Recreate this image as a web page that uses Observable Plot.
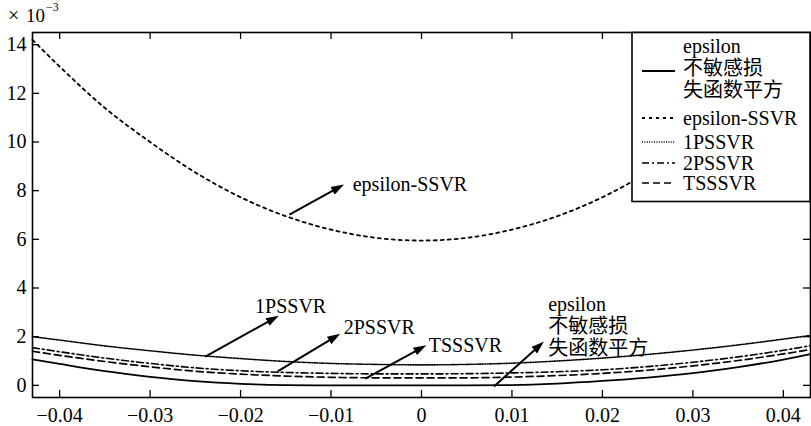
<!DOCTYPE html>
<html>
<head>
<meta charset="utf-8">
<script src="https://cdn.jsdelivr.net/npm/d3@7"></script>
<script src="https://cdn.jsdelivr.net/npm/@observablehq/plot@0.6"></script>
<style>
  html, body { margin: 0; padding: 0; background: #fff; }
  #chart { width: 811px; height: 426px; }
</style>
</head>
<body>
<div id="chart"></div>
<script>
// ---- data (y values in units of 1e-3) ----
const xValues = [-0.043, -0.04, -0.035, -0.03, -0.025, -0.02, -0.015, -0.01, -0.005, 0,
                 0.005, 0.01, 0.015, 0.02, 0.025, 0.03, 0.035, 0.04, 0.043];
const epsInsensitiveSq = [1.07, 0.88, 0.58, 0.35, 0.17, 0.06, 0.01, 0, 0, 0,
                          0, 0.01, 0.07, 0.18, 0.32, 0.5, 0.75, 1.06, 1.28];
const epsilonSSVR = [14.2, 13.1, 11.4, 10.0, 8.75, 7.73, 6.95, 6.4, 6.06, 5.95,
                     6.06, 6.4, 6.95, 7.73, 8.75, 10.0, 11.4, 13.1, 14.2];
const onePSSVR = [2.0, 1.86, 1.62, 1.42, 1.24, 1.1, 0.98, 0.9, 0.86, 0.84,
                  0.86, 0.91, 1.0, 1.12, 1.27, 1.45, 1.66, 1.9, 2.05];
const twoPSSVR = [1.55, 1.38, 1.12, 0.9, 0.72, 0.6, 0.53, 0.49, 0.47, 0.47,
                  0.48, 0.51, 0.56, 0.64, 0.77, 0.95, 1.17, 1.44, 1.63];
const tsSSVR = [1.40, 1.23, 0.98, 0.76, 0.58, 0.46, 0.38, 0.33, 0.31, 0.31,
                0.31, 0.34, 0.4, 0.49, 0.62, 0.8, 1.02, 1.29, 1.47];

const seriesNames = ["epsilon 不敏感损失函数平方", "epsilon-SSVR", "1PSSVR", "2PSSVR", "TSSSVR"];
const seriesValues = [epsInsensitiveSq, epsilonSSVR, onePSSVR, twoPSSVR, tsSSVR];

const xTicks = [-0.04, -0.03, -0.02, -0.01, 0, 0.01, 0.02, 0.03, 0.04];
const yTicks = [0, 2, 4, 6, 8, 10, 12, 14];

// annotations (data coordinates)
const annotationLabels = ["epsilon-SSVR", "1PSSVR", "2PSSVR", "TSSSVR", "epsilon\n不敏感损\n失函数平方"];
const labelX = [-0.0076, -0.0184, -0.0086, 0.0008, 0.0140];
const labelY = [8.29, 3.28, 2.38, 1.64, 2.42];
const arrowX1 = [-0.0146, -0.0239, -0.0159, -0.0062, 0.0080];
const arrowY1 = [7.02, 1.18, 0.57, 0.28, -0.05];
const arrowX2 = [-0.0092, -0.0164, -0.0096, -0.0001, 0.0130];
const arrowY2 = [8.12, 2.73, 1.98, 1.52, 1.62];

// ---- styles ----
const dashes = {
  "epsilon 不敏感损失函数平方": null,
  "epsilon-SSVR": "3,4",
  "1PSSVR": "1,1.4",
  "2PSSVR": "7,3,2,3",
  "TSSSVR": "7,4"
};
const widths = {
  "epsilon 不敏感损失函数平方": 1.8,
  "epsilon-SSVR": 1.8,
  "1PSSVR": 1.6,
  "2PSSVR": 1.6,
  "TSSSVR": 1.7
};

const rows = seriesNames.flatMap((name, si) =>
  xValues.map((x, i) => ({ name, x, y: seriesValues[si][i] })));

const annotations = annotationLabels.map((label, i) => ({
  label, lx: labelX[i], ly: labelY[i],
  x1: arrowX1[i], y1: arrowY1[i], x2: arrowX2[i], y2: arrowY2[i]
}));

const W = 811, H = 426;
const mL = 32, mR = 1, mT = 32, mB = 29;
const innerW = W - mL - mR, innerH = H - mT - mB;
const FONT = "'Liberation Serif', 'Times New Roman', 'Noto Sans CJK SC', serif";

const fmtX = d => d === 0 ? "0" : d3.format(".2f")(d);

const lineMarks = seriesNames.map(name =>
  Plot.line(rows.filter(r => r.name === name), {
    x: "x", y: "y", curve: "monotone-x",
    stroke: "black", strokeWidth: widths[name],
    strokeDasharray: dashes[name] || undefined
  }));

const svg = Plot.plot({
  width: W, height: H,
  marginLeft: mL, marginRight: mR, marginTop: mT, marginBottom: mB,
  x: { domain: [-0.043, 0.043], label: null },
  y: { domain: [-0.5, 14.5], label: null },
  style: { fontFamily: FONT, fontSize: "20px", color: "black", background: "white", overflow: "visible" },
  marks: [
    ...lineMarks,
    Plot.axisX(xTicks, { tickSize: 0, tickPadding: 10, tickFormat: fmtX, label: null }),
    Plot.axisY(yTicks, { tickSize: 0, tickPadding: 6, label: null }),
    Plot.tickX(xTicks, { x: d => d, insetTop: innerH - 7, stroke: "black", strokeWidth: 1.3 }),
    Plot.tickX(xTicks, { x: d => d, insetBottom: innerH - 7, stroke: "black", strokeWidth: 1.3 }),
    Plot.tickY(yTicks, { y: d => d, insetRight: innerW - 7, stroke: "black", strokeWidth: 1.3 }),
    Plot.tickY(yTicks, { y: d => d, insetLeft: innerW - 7, stroke: "black", strokeWidth: 1.3 }),
    Plot.frame({ stroke: "black", strokeWidth: 1.6 }),
    Plot.link(annotations, { x1: "x1", y1: "y1", x2: "x2", y2: "y2", stroke: "black", strokeWidth: 2, markerEnd: "arrow" }),
    Plot.text(annotations, { x: "lx", y: "ly", text: "label", textAnchor: "start", lineAnchor: "middle", lineHeight: 1.1, fill: "black", fontSize: 20 })
  ]
});

document.getElementById("chart").appendChild(svg);

// ---- turn Plot's arrow markers into filled triangles ----
const s = d3.select(svg);
s.selectAll("marker").each(function () {
  const m = d3.select(this);
  m.attr("viewBox", "-5 -5 10 10").attr("markerWidth", 6.5).attr("markerHeight", 6.5)
   .attr("fill", "black").attr("stroke", "none");
  m.selectAll("*").remove();
  m.append("path").attr("d", "M-5,-3.3 L5,0 L-5,3.3 z").attr("fill", "black").attr("stroke", "none");
});

// ---- x10^-3 multiplier ----
const mult = s.append("g").style("font-family", FONT).attr("fill", "black").attr("text-anchor", "start");
mult.append("text").attr("x", 8).attr("y", 22).style("font-size", "20px").text("×");
mult.append("text").attr("x", 26).attr("y", 22).style("font-size", "19px").text("10");
mult.append("text").attr("x", 46).attr("y", 11).style("font-size", "12px").text("−3");

// ---- legend ----
const leg = s.append("g").style("font-family", FONT)
  .attr("fill", "black").attr("text-anchor", "start");
leg.append("rect").attr("x", 632).attr("y", 32.5).attr("width", 178).attr("height", 169)
  .attr("fill", "white").attr("stroke", "black").attr("stroke-width", 1.6);
const legendRows = [
  { name: seriesNames[0], lines: ["epsilon", "不敏感损", "失函数平方"], textY: [46, 68, 90], sampleY: 71 },
  { name: seriesNames[1], lines: ["epsilon-SSVR"], textY: [118], sampleY: 118 },
  { name: seriesNames[2], lines: ["1PSSVR"], textY: [142], sampleY: 142 },
  { name: seriesNames[3], lines: ["2PSSVR"], textY: [163], sampleY: 163 },
  { name: seriesNames[4], lines: ["TSSSVR"], textY: [183], sampleY: 183 }
];
legendRows.forEach(r => {
  const ln = leg.append("line").attr("x1", 642).attr("x2", 675)
    .attr("y1", r.sampleY).attr("y2", r.sampleY)
    .attr("stroke", "black").attr("stroke-width", widths[r.name]);
  if (dashes[r.name]) ln.attr("stroke-dasharray", dashes[r.name]);
  r.lines.forEach((t, i) => {
    leg.append("text").attr("x", 683).attr("y", r.textY[i]).attr("dy", "0.35em")
      .style("font-size", "20px").text(t);
  });
});
</script>
</body>
</html>
